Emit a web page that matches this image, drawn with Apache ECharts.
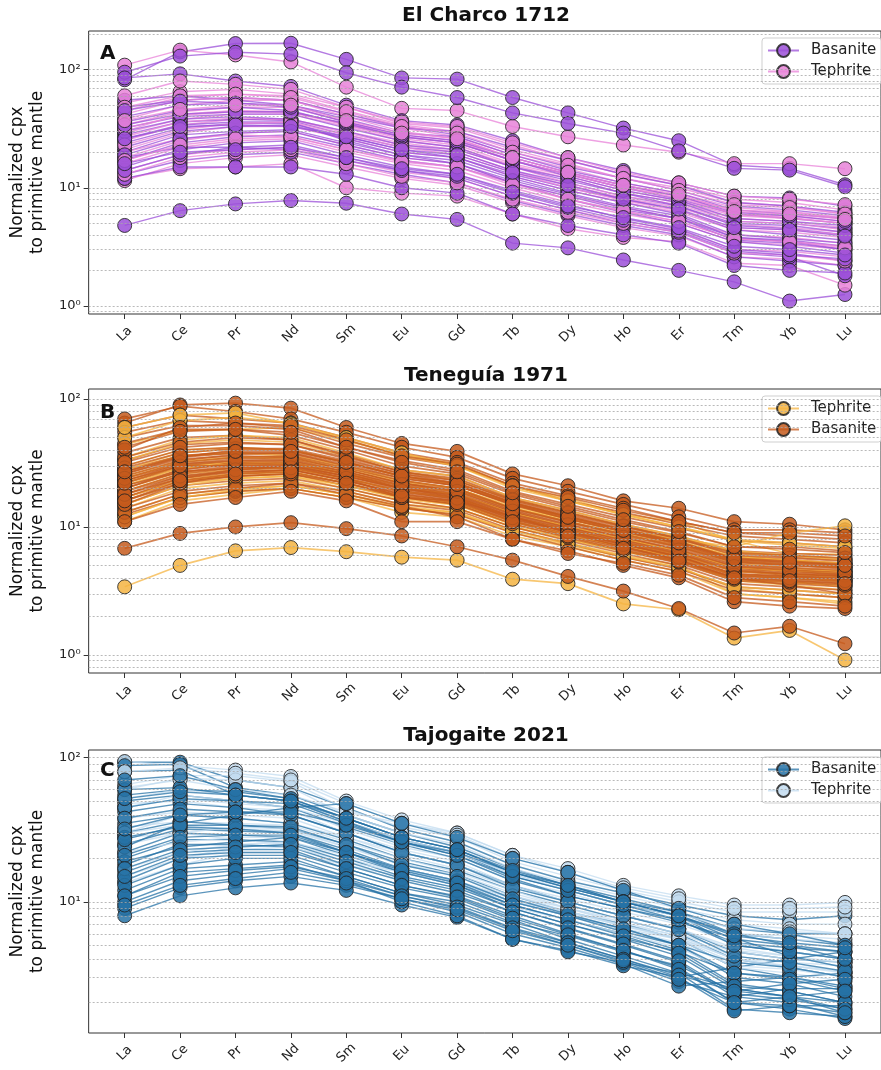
<!DOCTYPE html>
<html><head><meta charset="utf-8">
<script src="https://cdn.jsdelivr.net/npm/echarts@6/dist/echarts.min.js"></script>
<style>html,body{margin:0;padding:0;background:#fff}#chart{width:881px;height:1070px}</style>
</head><body><div id="chart"></div>
<script>
// ---------------- DATA ----------------
const ELEMENTS = ['La','Ce','Pr','Nd','Sm','Eu','Gd','Tb','Dy','Ho','Er','Tm','Yb','Lu'];
const Y_TICKS_A = [1, 10, 100];
const Y_TICKS_B = [1, 10, 100];
const Y_TICKS_C = [10, 100];
const GRID_VALUES = [0.8,0.9,1,2,3,4,5,6,7,8,9,10,20,30,40,50,60,70,80,90,100,200];

// El Charco 1712
const A_BASANITE = [
  [82,141,166,167,122,85,83,58,43,32,25,15.5,14.6,10.6],
  [95,130,140,135,94,71,58,43,35,29,20.5,14.6,14.1,10.2],
  [4.8,6.4,7.3,7.8,7.4,6.0,5.4,3.4,3.1,2.45,2.0,1.6,1.1,1.25],
  [85,92,80,72,50,37,34,25,18,14,11,8.5,8.2,7.0],
  [55,60,55,50,40,32,30,22,17,13,10.5,7.5,7.0,6.2],
  [48,55,58,55,42,33,28,20,15,12,9.5,7.0,6.5,5.8],
  [36,45,48,45,34,27,24,17,13,10,8.0,6.0,5.5,5.0],
  [32,40,42,42,32,25,22,15,12,9.0,7.5,5.2,5.0,4.5],
  [28,36,38,37,28,22,20,14,11,8.5,7.0,4.8,4.5,4.0],
  [24,32,35,35,27,21,18,13,10,8.0,6.5,4.4,4.0,3.6],
  [20,28,30,31,24,19,17,12,9.0,7.0,5.8,3.8,3.6,3.2],
  [17,24,27,28,22,17,15,11,8.0,6.2,5.0,3.5,3.2,2.8],
  [15,21,24,25,19,15,13,9.5,7.2,5.5,4.5,3.0,2.8,2.4],
  [13,17,19,20,16,13,11,7.8,6.0,4.8,4.0,2.6,2.4,2.2],
  [18,22,22,21,17,14,12,8.5,6.5,5.0,4.2,2.8,2.6,1.8],
  [40,50,52,50,38,29,27,19,14,11,9.0,6.5,6.0,5.5],
  [22,30,33,34,26,20,18,12.5,9.5,7.5,6.0,4.0,3.7,3.4],
  [26,34,36,36,25,19,16,11,8.5,6.5,5.5,3.8,3.5,3.0],
  [30,38,40,38,30,23,21,15,11.5,9.0,7.0,5.0,4.8,4.2],
  [12,15,15,15,13,10,9.0,6.0,4.8,4.0,3.4,2.2,2.0,1.9],
  [34,42,44,44,35,27,24,17,12.5,9.5,7.8,5.5,5.2,4.8],
  [19,26,29,30,23,18,16,11.5,8.8,6.8,5.5,3.6,3.4,3.0],
  [14,19,22,23,18,14,12.5,9.0,6.8,5.3,4.3,2.9,2.7,2.5],
  [45,54,52,48,36,28,25,18,13.5,10.5,8.5,6.2,5.8,5.2],
  [26,33,34,33,27,21,19,13.5,10.5,8.0,6.6,4.6,4.4,3.9],
  [16,20,21,22,18,14.5,13,9.2,7.0,5.6,4.6,3.2,3.0,2.7]
];
const A_TEPHRITE = [
  [109,146,133,116,71,47,45,33,27,23,20,16,16,14.5],
  [52,65,68,62,48,35,32,23,17,13,10.5,8.0,7.5,6.5],
  [45,58,62,60,45,34,30,21,16,12,10,7.5,7.0,6.0],
  [38,50,55,55,42,32,27,19,14.5,11,9.0,6.8,6.3,5.6],
  [34,44,48,48,36,28,25,17,13,10,8.5,6.0,5.8,5.2],
  [29,38,42,42,33,25,22,15.5,12,9.0,7.5,5.5,5.2,4.6],
  [25,34,38,38,29,23,20,14,10.5,8.2,6.8,4.9,4.6,4.2],
  [21,29,33,33,26,20,18,12.5,9.5,7.5,6.2,4.4,4.2,3.8],
  [18,25,29,30,23,18,16,11,8.5,6.8,5.5,4.0,3.8,3.4],
  [16,22,25,26,20,16,14,10,7.5,6.0,5.0,3.5,3.3,3.0],
  [14,19,21,22,17,13.5,12,8.5,6.5,5.2,4.4,3.0,2.9,2.6],
  [11.5,16,18,19,15,12,10.5,7.5,5.8,4.6,3.9,2.6,2.5,2.2],
  [12,14.5,15,16,10,9.0,8.5,6.0,4.5,3.8,3.5,2.3,2.2,1.5],
  [20,26,28,27,21,17,15,11,8.0,6.3,5.2,3.7,3.5,3.2],
  [30,42,45,44,34,26,23,16,12.5,9.5,7.8,5.8,5.5,5.0],
  [42,55,58,55,40,30,26,18,13.5,10.5,8.5,6.5,6.2,5.5],
  [27,36,39,38,30,24,21,15,11,8.5,7.2,5.2,5.0,4.4],
  [60,80,75,68,48,36,33,24,18,13.5,11,8.5,8.0,7.2],
  [23,31,35,36,28,22,19,13.5,10,7.8,6.4,4.6,4.4,4.0],
  [32,41,44,43,35,27,24,17,13,10,8.2,6.0,5.6,5.0],
  [13,18,20,21,16,12.5,11,8.0,6.2,5.0,4.2,2.8,2.7,2.4],
  [48,60,62,58,44,33,29,20,15.5,12,9.5,7.2,6.8,6.0],
  [17,23,26,27,21,16.5,15,10.5,8.0,6.4,5.2,3.7,3.5,3.1],
  [37,46,50,50,37,29,26,18,13.5,10.5,8.8,6.3,6.0,5.4]
];

// Teneguía 1971
const B_TEPHRITE = [
  [3.4,5.0,6.5,6.9,6.4,5.8,5.5,3.9,3.6,2.5,2.25,1.35,1.55,0.91],
  [44,57,58,60,47,37,31,20.5,16.8,12.5,11,7.8,6.2,6.1],
  [11,16,18,20,17,13,12,8.5,7.0,5.5,4.5,3.0,2.8,2.6],
  [13,18,20,21,18,14,13,9.0,7.2,5.8,4.8,3.3,3.0,2.8],
  [16,22,24,25,20,16,14,10,8.0,6.4,5.3,3.8,3.5,3.2],
  [20,27,29,29,24,19,17,12,9.5,7.5,6.2,4.5,4.2,4.0],
  [25,33,35,34,28,22,19,14,11,8.5,7.0,5.2,4.8,4.5],
  [30,40,42,40,32,25,22,15.5,12,9.5,7.8,6.0,5.5,5.2],
  [50,68,72,65,48,36,30,20,16,12.5,10,7.8,7.2,6.8],
  [18,24,26,27,22,17,15.5,11,8.8,7.0,5.8,4.2,4.0,3.7],
  [23,30,32,31,26,20,18,13,10,8.0,6.6,4.8,4.5,4.3],
  [35,48,52,50,38,28,25,17,13.5,10.5,8.5,6.5,6.0,5.5],
  [12,17,19,20,17,14,12.5,9.5,7.5,6.0,5.0,3.0,2.8,2.5],
  [27,36,38,36,30,23,20,14.5,11.5,9.0,7.5,5.8,5.5,5.0],
  [14,20,22,23,19,15,14,10,8.0,6.5,5.4,3.9,3.7,3.4],
  [22,30,32,32,27,21,19,14,11.5,9.5,8.0,7.0,9.0,10.2],
  [17,23,25,26,21,17,15,11,8.6,7.0,6.0,4.5,4.6,4.5],
  [60,75,78,64,50,38,30,21,16,12.5,10,8.0,7.5,7.0],
  [19,26,28,29,24,19,16.8,11.9,9.4,7.5,6.1,4.5,4.3,4.1],
  [24,32,35,35,29,22.5,20,14,11,8.8,7.2,5.4,5.1,4.8],
  [15,21,24,25,21,16.5,14.8,10.4,8.3,6.6,5.4,3.9,3.7,3.5],
  [28,38,41,40,32,25,21.5,15.2,12,9.5,7.7,5.8,5.5,5.2],
  [21,29,31,31,26,20,18,12.8,10.1,8.0,6.5,4.8,4.6,4.4],
  [33,45,48,46,36,27,23.5,16.5,13,10.2,8.3,6.3,6.0,5.7],
  [17,23,26,27,22,17.5,15.5,11.1,8.8,7.0,5.7,4.2,4.0,3.8],
  [12,17,19.5,21,18,14.5,13,9.3,7.4,5.9,4.8,3.4,3.2,3.0]
];
const B_BASANITE = [
  [65,90,93,85,60,45,39,26,21,16,14,11,10.5,9.5],
  [6.8,8.9,10,10.8,9.7,8.5,7.0,5.5,4.1,3.15,2.3,1.48,1.67,1.22],
  [70,88,80,70,55,42,35,24,19,15,12,9.5,9.5,9.0],
  [60,75,70,65,50,38,32,22,17.5,14,11,9.0,8.5,8.0],
  [55,68,65,60,45,35,30,21,16,13,10.5,8.5,8.0,7.5],
  [50,62,62,58,42,33,28,19,15,12,9.8,7.8,7.5,7.0],
  [45,58,58,52,40,30,26,18,14,11,9.0,7.0,7.0,6.5],
  [38,50,52,48,37,28,25,17,13.5,10.5,8.5,6.5,6.2,6.0],
  [33,44,46,44,34,26,23,16,12.5,10,8.0,6.2,5.8,5.5],
  [30,40,42,40,32,25,21,15,12,9.5,7.5,5.8,5.5,5.2],
  [28,36,38,37,30,23,20,14,11,8.8,7.0,5.3,5.0,4.8],
  [26,34,36,35,28,22,19,13.5,10.5,8.3,6.7,5.0,4.7,4.5],
  [24,31,33,33,26,21,18,13,10,8.0,6.4,4.8,4.5,4.2],
  [22,29,31,31,25,20,17,12,9.5,7.6,6.0,4.5,4.2,4.0],
  [20,27,29,29,24,19,16.5,11.5,9.0,7.2,5.8,4.2,4.0,3.8],
  [19,25,27,28,23,18,16,11,8.6,6.9,5.5,4.0,3.8,3.6],
  [17,23,25,26,21,17,15,10.5,8.2,6.5,5.2,3.8,3.6,3.4],
  [15,21,23,24,20,16,14,10,7.8,6.2,5.0,3.6,3.4,3.2],
  [14,19,21,22,19,15,13.5,9.5,7.4,5.8,4.7,3.4,3.2,3.0],
  [12.5,17,19,20,17,14,12.5,9.0,7.0,5.5,4.5,3.2,3.0,2.8],
  [21,28,32,33,27,21,18.5,13,10.2,8.2,6.5,4.9,4.6,4.3],
  [25,33,37,38,30,24,21,15,11.5,9.2,7.4,5.5,5.2,4.9],
  [18,24,28,30,25,20,17.5,12.5,9.8,7.8,6.2,4.6,4.3,4.1],
  [16,22,26,28,23,18.5,16.5,11.5,9.2,7.3,5.9,4.3,4.1,3.9],
  [35,46,50,48,36,27,24,16.5,13,10.2,8.2,6.3,6.0,5.7],
  [13,18,20,22,18,14.5,12,8.0,6.5,5.0,4.0,2.6,2.4,2.3],
  [23,30,30,30,24,17,16,12,9.0,7.0,5.5,4.0,3.5,3.0],
  [40,60,65,62,48,36,31,21,17,13.5,11,9.0,9.0,8.5],
  [27,35,40,40,32,25,22,15.5,12,9.5,7.6,5.6,5.3,5.0],
  [11,15,17,19,16,11,11,8.0,6.2,5.2,4.2,2.8,2.6,2.4],
  [21,27,30,31,26,20,17.5,12.2,9.6,7.6,6.1,4.5,4.3,4.1],
  [19,26,29,30,25,19.5,17,12,9.3,7.4,5.9,4.3,4.1,3.9],
  [23,31,34,35,28,22,19.5,13.8,10.8,8.6,6.9,5.1,4.8,4.6],
  [17,24,27,28,23,18,16,11.2,8.8,7.0,5.6,4.1,3.9,3.7],
  [26,35,38,38,31,24,21,14.8,11.6,9.2,7.3,5.4,5.1,4.8],
  [15,22,25,26,22,17,15,10.6,8.3,6.6,5.3,3.9,3.7,3.5],
  [29,38,41,41,33,26,22,15.5,12.2,9.7,7.7,5.7,5.4,5.1],
  [20,28,31,32,26,20.5,18,12.6,9.9,7.9,6.3,4.7,4.4,4.2],
  [24,32,35,36,29,23,20,14,11,8.8,7.1,5.3,5.0,4.7],
  [18,25,28,29,24,19,16.8,11.8,9.2,7.3,5.8,4.2,4.0,3.8],
  [32,42,45,44,35,27,23,16.2,12.8,10.1,8.1,6.0,5.7,5.4],
  [22,30,33,34,27,21.5,19,13.3,10.4,8.3,6.6,4.9,4.6,4.4],
  [16,23,26,27,22,17.5,15.5,11,8.5,6.8,5.4,4.0,3.8,3.6],
  [27,36,39,39,32,25,21.5,15.2,11.9,9.4,7.5,5.6,5.3,5.0],
  [42,56,58,55,42,32,27,18.5,14.5,11.4,9.2,7.0,6.7,6.3]
];

// Tajogaite 2021
const C_BASANITE = [
  [93,93,70,62,45,32,26,18,14,11.5,9.5,8.0,7.5,8.0],
  [88,90,62,55,40,30,24,17,13,10.5,8.5,6.5,6.0,6.0],
  [80,82,55,50,36,27,22,15,12,9.5,8.0,5.0,4.5,4.0],
  [55,60,58,52,38,28,23,16,13,10,8.5,6.0,5.5,5.0],
  [50,55,50,45,33,25,20,14,11,9.0,7.5,5.2,4.8,4.5],
  [42,48,45,40,30,22,18,13,10,8.0,6.5,4.5,4.0,3.8],
  [35,40,38,35,27,20,16.5,12,9.5,7.5,6.0,4.0,3.5,3.0],
  [30,36,34,32,25,19,15.5,11,8.5,7.0,5.5,3.5,3.0,2.5],
  [25,32,31,30,23,17,14,10,8.0,6.5,5.0,3.0,2.7,2.2],
  [22,30,29,28,21,16,13,9.5,7.5,6.0,4.6,2.7,2.4,2.0],
  [20,27,27,26,20,15,12.5,9.0,7.0,5.5,4.2,2.5,2.2,1.8],
  [18,25,25,24,18,14,11.5,8.5,6.5,5.0,3.8,2.2,2.0,1.6],
  [16,22,23,23,17,13,11,8.0,6.0,4.6,3.5,2.0,1.8,1.55],
  [14,20,21,21,16,12.5,10.5,7.5,5.5,4.2,3.2,1.8,1.7,1.6],
  [12,17,18,19,15,11.5,9.5,7.0,5.2,4.0,3.0,1.75,1.9,1.9],
  [10,14,15.5,17,14,11,9.0,6.5,5.0,3.8,2.8,2.2,2.5,2.5],
  [9,12.5,14,15,13,10.5,8.5,6.0,4.8,3.7,2.6,2.8,3.0,3.2],
  [8,11,12.5,13.5,12,9.5,7.8,5.5,4.6,3.6,3.0,3.5,4.0,4.5],
  [24,35,40,45,48,35,28,20,16,12,9.0,7.0,6.0,5.0],
  [11,16,17,18,14,10,8.0,5.5,4.5,3.8,3.2,2.5,2.2,2.0],
  [45,52,50,48,35,26,22,16,12.5,10,8.0,5.5,5.0,4.0],
  [13,18,20,20,15,11.5,10,7.2,5.8,4.5,3.6,2.4,2.2,1.7],
  [28,33,32,30,22,16,13,9.0,7.0,5.6,4.5,3.2,3.0,2.6],
  [19,24,26,28,22,17,14,10,8.0,6.2,5.0,3.8,3.5,3.0],
  [60,62,55,50,36,26,21,14.5,11,9.0,7.2,5.6,4.2,3.5],
  [70,75,60,52,38,28,23,16,12.5,10,8.0,6.0,5.0,4.5],
  [38,44,42,40,30,22,18,12.5,10,8,6.4,4.2,3.8,3.3],
  [27,34,34,33,25,18,15,10.5,8.2,6.5,5.0,3.2,2.9,2.4],
  [21,28,29,29,22,16.5,13.5,9.5,7.5,5.8,4.4,2.6,2.4,2.0],
  [17,23,24,25,19,14.5,12,8.5,6.6,5.1,3.9,2.3,2.1,1.8],
  [15,21,22,22,17,13,10.8,7.7,5.9,4.6,3.4,2.0,1.9,1.7],
  [32,40,42,42,34,26,21,15,12,9.5,7.5,5.0,4.5,4.0],
  [11,15,16.5,17.5,14.5,11,9.2,6.6,5.2,4.0,3.1,2.4,2.7,2.9],
  [52,58,55,50,38,28,23,16.5,13,10,8.0,5.8,5.2,4.8],
  [9.5,13,14.5,16,13.5,10.5,8.8,6.3,5.0,3.9,2.9,2.0,2.2,2.4]
];
const C_TEPHRITE = [
  [94,88,82,74,50,37,30,21,17,13,11,9.5,9.5,9.9],
  [65,75,75,68,44,33,28,19,15,12,10,8.5,8.5,8.5],
  [60,72,70,62,40,30,25,17,13.5,11,9.0,7.5,7.0,7.0],
  [45,52,48,45,32,24,20,14,11.5,9.0,7.5,6.0,5.8,5.5],
  [48,50,45,43,30,23,19,13,10.5,8.5,7.0,5.2,4.5,4.0],
  [30,40,38,35,28,22,18,13,10,8.0,6.5,4.8,4.2,3.5],
  [33,36,35,34,26,20,16,12,9.0,7.0,5.8,4.0,3.5,3.0],
  [28,30,27,25,20,16,13.5,10,8.0,6.5,5.5,3.5,3.2,2.8],
  [15,20,24,25,22,17,14,10,8.5,6.8,5.6,4.0,3.8,3.2],
  [13.5,18,22,22,18,15,12.5,9.2,7.5,6.0,4.8,3.2,3.0,2.6],
  [45,55,50,45,35,25,22,15.5,12,9.5,8.0,6.0,5.5,5.2],
  [20,20,23,24,19,16,13,11,9.0,7.2,5.8,4.2,3.8,3.6],
  [62,70,60,55,42,35,30,21,16,12,9.0,7.0,6.5,6.0],
  [25,30,33,32,24,18,15.5,11.5,9.0,7.5,6.0,4.5,4.0,3.8],
  [80,85,78,70,48,35,29,20,16,12.5,10.5,9.0,9.0,9.2],
  [52,60,55,50,36,27,22,15.5,12.5,10,8.2,6.5,6.2,6.0],
  [38,42,40,38,28,21,17,12.5,10,8,6.5,4.6,4.2,3.8],
  [22,26,28,28,22,17,14,10.5,8.5,6.8,5.5,3.8,3.6,3.3],
  [17,22,25,26,21,16.5,13.8,10,8.0,6.4,5.2,3.6,3.4,3.0],
  [30,34,32,31,24,18.5,15,11,8.6,6.9,5.6,4.0,3.6,3.2]
];

// ---------------- CHART ----------------
const FONT = 'DejaVu Sans';
const X_MIN = -0.65, X_MAX = 13.65;
const PANELS = [
  {title:'El Charco 1712', letter:'A', top:31, height:283, ymin:0.855, ymax:212, yTicks:Y_TICKS_A,
   titleY:16, letterY:54, lineW:1.4,
   groups:[{name:'Basanite', color:'#9b4fd8', data:A_BASANITE},{name:'Tephrite', color:'#e882d8', data:A_TEPHRITE}]},
  {title:'Teneguía 1971', letter:'B', top:389, height:284, ymin:0.72, ymax:120, yTicks:Y_TICKS_B,
   titleY:376, letterY:413, lineW:1.7,
   groups:[{name:'Tephrite', color:'#f5b442', data:B_TEPHRITE},{name:'Basanite', color:'#c65a1c', data:B_BASANITE}]},
  {title:'Tajogaite 2021', letter:'C', top:750, height:283, ymin:1.23, ymax:113, yTicks:Y_TICKS_C,
   titleY:736, letterY:771, lineW:1.4,
   groups:[{name:'Basanite', color:'#2672a6', data:C_BASANITE},{name:'Tephrite', color:'#c3dcf0', data:C_TEPHRITE}]}
];

const grids = [], xAxes = [], yAxes = [], series = [], legends = [], graphics = [];
const SUP = {'0':'⁰','1':'¹','2':'²','3':'³'};
const xIdx = ELEMENTS.map((_, i) => i);

PANELS.forEach((P, p) => {
  const suffix = ' '.repeat(p);
  grids.push({left:84, top:P.top, width:803, height:P.height, show:true, borderColor:'#333', borderWidth:1, backgroundColor:'transparent'});
  xAxes.push({
    type:'value', gridIndex:p, min:X_MIN, max:X_MAX, position:'bottom',
    axisLine:{show:false, onZero:false}, splitLine:{show:false},
    axisTick:{show:true, length:5, lineStyle:{color:'#333'}, customValues:xIdx},
    axisLabel:{customValues:xIdx, formatter:v => ELEMENTS[Math.round(v)], rotate:45, align:'center', verticalAlign:'middle',
      margin:20, fontSize:13, fontFamily:FONT, color:'#222'}
  });
  yAxes.push({
    type:'log', logBase:10, gridIndex:p, min:P.ymin, max:P.ymax, position:'left',
    name:'Normalized cpx\nto primitive mantle', nameLocation:'middle', nameGap:38,
    nameTextStyle:{fontSize:17, lineHeight:20, fontFamily:FONT, color:'#111'},
    axisLine:{show:false, onZero:false}, splitLine:{show:false},
    axisTick:{show:true, length:5, lineStyle:{color:'#333'}, customValues:P.yTicks},
    axisLabel:{customValues:P.yTicks, margin:8, fontSize:13, fontFamily:FONT, color:'#222',
      formatter:v => '10' + SUP[String(Math.round(Math.log10(v)))]}
  });
  // dotted grid lines
  series.push({
    type:'line', xAxisIndex:p, yAxisIndex:p, data:[], silent:true, z:1,
    markLine:{silent:true, symbol:['none','none'], animation:false, label:{show:false},
      lineStyle:{color:'#a8a8a8', type:[2,2], width:0.8},
      data:GRID_VALUES.filter(v => v >= P.ymin && v <= P.ymax).map(v => [{coord:[X_MIN, v]}, {coord:[X_MAX, v]}])}
  });
  const g0 = P.groups[0], g1 = P.groups[1];
  const n = Math.max(g0.data.length, g1.data.length);
  const mk = (g, vals) => ({
    type:'line', name:g.name + suffix, xAxisIndex:p, yAxisIndex:p,
    data:vals.map((v, i) => [i, v]),
    symbol:'circle', symbolSize:14, showSymbol:true, z:3,
    itemStyle:{color:g.color, borderColor:'#222', borderWidth:1, opacity:0.85},
    lineStyle:{color:g.color, width:P.lineW, opacity:0.75},
    emphasis:{disabled:true}, animation:false
  });
  for (let i = 0; i < n; i++) {
    if (i < g0.data.length) series.push(mk(g0, g0.data[i]));
    if (i < g1.data.length) series.push(mk(g1, g1.data[i]));
  }
  legends.push({
    data:[g0.name + suffix, g1.name + suffix], formatter:nm => nm.trim(),
    orient:'vertical', left:762, top:P.top + 7, itemWidth:31, itemHeight:16, itemGap:6,
    padding:[5, 5, 5, 5], backgroundColor:'rgba(255,255,255,0.85)', borderColor:'#cfcfcf', borderWidth:1, borderRadius:3,
    textStyle:{fontSize:15, fontFamily:FONT, color:'#222', padding:[0,0,0,7]},
    selectedMode:false
  });
  graphics.push({type:'text', x:486, y:P.titleY, z:10,
    style:{text:P.title, font:'bold 20px "DejaVu Sans"', fill:'#111', align:'center', verticalAlign:'middle'}});
  graphics.push({type:'text', x:100, y:P.letterY, z:10,
    style:{text:P.letter, font:'bold 20px "DejaVu Sans"', fill:'#111', align:'left', verticalAlign:'middle'}});
});

const chart = echarts.init(document.getElementById('chart'), null, {renderer:'canvas'});
chart.setOption({
  animation:false, backgroundColor:'#fff',
  grid:grids, xAxis:xAxes, yAxis:yAxes, series:series, legend:legends, graphic:graphics
});
</script></body></html>
